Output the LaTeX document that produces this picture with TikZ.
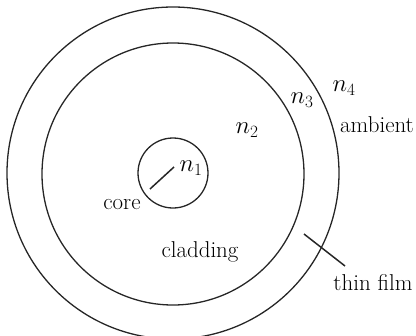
\documentclass[tikz,border=0pt]{standalone}
\begin{document}
\begin{tikzpicture}[x=1bp,y=-1bp,
  ring/.style={circle,draw=black!85,line width=1.3bp,inner sep=0pt},
  lbl/.style={font=\fontsize{23}{27}\selectfont,inner sep=0pt},
  lead/.style={draw=black!85,line width=1.5bp}]
\useasboundingbox (0,0) rectangle (416,336);
\node[ring,minimum size=70bp] (core) at (173,173) {};
\node[ring,minimum size=262bp] (clad) at (173,174) {};
\node[ring,minimum size=332bp] (film) at (173,173) {};
\node[lbl] (n1) at (191,168) {$n_1$};
\node[lbl] (n2) at (247,130) {$n_2$};
\node[lbl] (n3) at (302,100) {$n_3$};
\node[lbl] (n4) at (344,88) {$n_4$};
\node[lbl] (core label) at (122,205) {core};
\node[lbl] (cladding) at (200,252) {cladding};
\node[lbl] (ambient) at (377,125) {ambient};
\node[lbl] (thinfilm) at (373,283) {thin film};
\coordinate (c1) at (174,167);
\coordinate (c2) at (150,189);
\coordinate (t1) at (304,234);
\coordinate (t2) at (345,266);
\draw[lead] (c1) -- (c2);
\draw[lead] (t1) -- (t2);
\end{tikzpicture}
\end{document}
